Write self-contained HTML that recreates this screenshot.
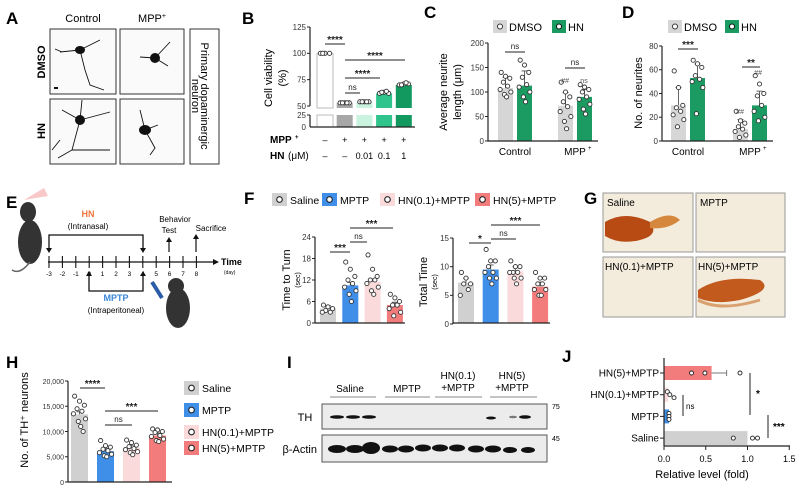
<!DOCTYPE html>
<html><head><meta charset="utf-8"><style>
html,body{margin:0;padding:0;background:#fff;}
svg{display:block;font-family:"Liberation Sans",Arial,sans-serif;}
</style></head><body>
<svg id="fig" width="802" height="491" viewBox="0 0 802 491" xmlns="http://www.w3.org/2000/svg">
<g font-weight="bold" font-size="17">
<text x="6" y="24">A</text>
<text x="242" y="24">B</text>
<text x="424" y="18">C</text>
<text x="622" y="18">D</text>
<text x="6" y="208">E</text>
<text x="244" y="204">F</text>
<text x="584" y="204">G</text>
<text x="6" y="368">H</text>
<text x="287" y="368">I</text>
<text x="562" y="362">J</text>
</g>
<!-- Panel A -->
<g>
<text x="83" y="22" font-size="11" text-anchor="middle">Control</text>
<text x="152" y="22" font-size="11" text-anchor="middle">MPP<tspan font-size="7" dy="-4">+</tspan></text>
<text transform="translate(45,62) rotate(-90)" font-size="11" font-weight="bold" text-anchor="middle">DMSO</text>
<text transform="translate(45,131) rotate(-90)" font-size="11" font-weight="bold" text-anchor="middle">HN</text>
<rect x="50" y="29" width="66" height="65" fill="#fafafa" stroke="#333" stroke-width="1"/>
<rect x="120" y="29" width="64" height="65" fill="#fafafa" stroke="#333" stroke-width="1"/>
<rect x="50" y="99" width="66" height="65" fill="#fafafa" stroke="#333" stroke-width="1"/>
<rect x="120" y="99" width="64" height="65" fill="#fafafa" stroke="#333" stroke-width="1"/>
<rect x="190" y="29" width="29" height="135" fill="#fff" stroke="#333" stroke-width="1"/>
<text transform="translate(201,96) rotate(90)" font-size="11" text-anchor="middle">Primary dopaminergic</text>
<text transform="translate(192,96) rotate(90)" font-size="11" text-anchor="middle">neuron</text>
<g stroke="#111" fill="none" stroke-width="0.9">
<path d="M80 50 L60 52 M80 50 L85 70 L90 85 L104 90 M80 50 L100 40 M62 52 L55 49"/>
<path d="M155 58 L140 57 M155 58 L168 66 M155 58 L170 42"/>
<path d="M80 120 L62 110 M80 120 L72 150 L58 158 M80 120 L110 112 M72 150 L110 150 M80 120 L82 100 M60 140 L52 150"/>
<path d="M145 130 L140 110 M145 130 L155 148 L150 155 M145 130 L158 125"/>
</g>
<g fill="#111">
<ellipse cx="80" cy="50" rx="5" ry="4"/><ellipse cx="155" cy="58" rx="5" ry="5"/>
<ellipse cx="80" cy="120" rx="5" ry="5"/><ellipse cx="145" cy="130" rx="6" ry="5"/>
<rect x="54" y="87" width="4" height="2"/>
</g>
</g>
<!-- Panel E -->
<g>
<path d="M24 200 L44 188 L48 196 Z" fill="#f6b0b0" opacity="0.7"/>
<ellipse cx="30" cy="242" rx="12" ry="22" fill="#333"/>
<ellipse cx="28" cy="212" rx="8" ry="10" fill="#333"/>
<path d="M30 262 Q20 275 12 270" stroke="#666" fill="none" stroke-width="1.5"/>
<line x1="48" y1="262" x2="213" y2="262" stroke="#111" stroke-width="1.3"/>
<path d="M213 259 L219 262 L213 265 Z" fill="#111"/>
<text x="221" y="265" font-size="9" font-weight="bold">Time</text>
<text x="224" y="274" font-size="5">(day)</text>
<g id="eticks"></g>
<text x="88" y="217" font-size="9" font-weight="bold" fill="#f0763c" text-anchor="middle">HN</text>
<text x="88" y="229" font-size="8" text-anchor="middle">(Intranasal)</text>
<path d="M49 250 L49 235 L143 235 L143 250" stroke="#111" fill="none" stroke-width="1.3"/>
<path d="M89 274 L89 291 L143 291 L143 274" stroke="#111" fill="none" stroke-width="1.3"/>
<text x="116" y="301" font-size="9" font-weight="bold" fill="#3a86d8" text-anchor="middle">MPTP</text>
<text x="116" y="313" font-size="8" text-anchor="middle">(Intraperitoneal)</text>
<text x="175" y="222" font-size="8" text-anchor="middle">Behavior</text>
<text x="169" y="233" font-size="8" text-anchor="middle">Test</text>
<text x="211" y="231" font-size="8" text-anchor="middle">Sacrifice</text>
<path d="M169 252 L169 240 M196 252 L196 237" stroke="#111" stroke-width="1.2"/>
<path d="M152 282 L162 298" stroke="#2a5ca8" stroke-width="4"/>
<ellipse cx="178" cy="308" rx="12" ry="20" fill="#333"/>
<ellipse cx="176" cy="286" rx="8" ry="8" fill="#333"/>
</g>
<!-- Panel G -->
<g>
<rect x="603" y="193" width="90" height="59" fill="#f3ecdc" stroke="#999"/>
<rect x="696" y="193" width="89" height="59" fill="#f3ecdc" stroke="#999"/>
<rect x="603" y="257" width="90" height="60" fill="#f3ecdc" stroke="#999"/>
<rect x="696" y="257" width="89" height="60" fill="#f3ecdc" stroke="#999"/>
<path d="M605 222 Q625 210 650 222 Q660 235 640 240 Q620 245 605 236 Z" fill="#b84a14"/>
<path d="M650 222 Q670 210 680 220 Q668 230 650 228 Z" fill="#d6873e"/>
<path d="M698 290 Q720 275 760 280 Q775 290 740 300 Q715 305 698 298 Z" fill="#c25a1e"/>
<path d="M698 300 Q720 312 760 300" stroke="#d9a070" fill="none" stroke-width="3"/>
<text x="607" y="206" font-size="10">Saline</text>
<text x="700" y="206" font-size="10">MPTP</text>
<text x="605" y="270" font-size="10">HN(0.1)+MPTP</text>
<text x="698" y="270" font-size="10">HN(5)+MPTP</text>
</g>
<!-- Panel I -->
<g>
<text x="350" y="392" font-size="10" text-anchor="middle">Saline</text>
<text x="407" y="392" font-size="10" text-anchor="middle">MPTP</text>
<text x="458" y="379" font-size="10" text-anchor="middle">HN(0.1)</text>
<text x="458" y="391" font-size="10" text-anchor="middle">+MPTP</text>
<text x="512" y="379" font-size="10" text-anchor="middle">HN(5)</text>
<text x="512" y="391" font-size="10" text-anchor="middle">+MPTP</text>
<path d="M330 397 H376 M385 397 H430 M435 397 H482 M490 397 H537" stroke="#888" stroke-width="1"/>
<rect x="322" y="404" width="225" height="25" fill="#ececec" stroke="#555"/>
<rect x="322" y="435" width="225" height="27" fill="#ececec" stroke="#555"/>
<text x="305" y="421" font-size="11" text-anchor="middle">TH</text>
<text x="317" y="453" font-size="11" text-anchor="end">β-Actin</text>
<text x="552" y="409" font-size="7">75</text>
<text x="552" y="441" font-size="7">45</text>
<g fill="#111">
<ellipse cx="337" cy="417" rx="7" ry="1.8"/><ellipse cx="353" cy="417" rx="7" ry="1.8"/><ellipse cx="369" cy="417" rx="7" ry="1.8"/>
<ellipse cx="491" cy="418" rx="5" ry="1.5"/><ellipse cx="513" cy="417" rx="4" ry="1.2" fill="#777"/><ellipse cx="525" cy="417" rx="6" ry="1.8"/>
</g>
<g fill="#111">
<ellipse cx="337" cy="449" rx="9" ry="4"/><ellipse cx="355" cy="449" rx="9" ry="4"/><ellipse cx="371" cy="448" rx="9" ry="6"/>
<ellipse cx="390" cy="449" rx="8" ry="3.5"/><ellipse cx="406" cy="449" rx="8" ry="3.5"/><ellipse cx="423" cy="448" rx="8" ry="3.5"/>
<ellipse cx="440" cy="448" rx="8" ry="3.5"/><ellipse cx="457" cy="448" rx="8" ry="3.5"/><ellipse cx="476" cy="449" rx="8" ry="3.5"/>
<ellipse cx="493" cy="449" rx="8" ry="3.5"/><ellipse cx="510" cy="450" rx="7" ry="3"/><ellipse cx="528" cy="450" rx="7" ry="3"/>
</g>
</g>
<g id="charts"></g>
</svg>
<script>
// ---- data ----
const bCats = ["ctrl","mpp","hn0.01","hn0.1","hn1"];
const bVals = [100, 53, 54, 62, 70];
const bPts = [[100,100,100,100],[53,53,53,53,53],[54,54,54,54,54],[62,63,62,63,64],[70,71,71,70,72]];
const bTicks = [50, 75, 100, 125];
const cDmso = [108, 72];
const cHn = [113, 90];
const cDmsoErr = [22, 27];
const cHnErr = [30, 15];
const cDmsoPts = [[140,132,128,120,112,105,100,95,90],[120,100,90,80,70,60,50,40,25]];
const cHnPts = [[165,155,140,130,115,110,100,90,80],[115,110,105,100,90,85,75,65,55]];
const cTicks = [0, 50, 100, 150, 200];
const dDmso = [30, 10];
const dHn = [53, 30];
const dDmsoErr = [15, 8];
const dHnErr = [12, 12];
const dDmsoPts = [[59,45,30,28,25,22,18,12],[25,17,15,12,10,8,5,3]];
const dHnPts = [[68,65,62,55,52,50,45,23],[55,48,40,38,30,25,20,17]];
const dTicks = [0, 20, 40, 60, 80];
const groupNames = ["Control", "MPP"];
const fTurn = [4, 10.5, 11.5, 5];
const fTurnPts = [[5,4.5,4,3.5,3,3],[17,15,13,12,11,10,9,8,6],[19,15,13,12,12,11,10,9,8],[8,7,6,5,5,4,3,2]];
const fTurnTicks = [0, 6, 12, 18, 24];
const fTotal = [7.2, 9.5, 9.2, 6.5];
const fTotalPts = [[9,8,7,7,6,5],[13,11,11,10,9,9,8,8,7],[11,10,10,9,9,9,8,8,7],[9,8,8,7,7,6,6,5,5]];
const fTotalTicks = [0, 5, 10, 15];
const hVals = [13400, 6100, 6800, 9200];
const hPts = [[17000,16000,15200,14500,14000,13500,12500,12000,11000,10000],[8200,7200,6900,6500,6200,5800,5500,5200,5000],[8300,7800,7300,7000,6600,6400,6000,5800,5400],[10500,10300,10000,9800,9200,9000,8500,8200,8000]];
const hTicks = [0, 5000, 10000, 15000, 20000];
const hTickLabels = ["0", "5,000", "10,000", "15,000", "20,000"];
const grpCats = ["Saline", "MPTP", "HN(0.1)+MPTP", "HN(5)+MPTP"];
const grpColors = ["#d0d0d0", "#3f8ee8", "#fadada", "#f27b7b"];
const jCats = ["HN(5)+MPTP", "HN(0.1)+MPTP", "MPTP", "Saline"];
const jVals = [0.57, 0.05, 0.06, 1.0];
const jErr = [0.18, 0, 0, 0];
const jPts = [[0.33,0.49,0.91],[0.04,0.07,0.12],[0.06,0.06,0.06],[0.83,1.06,1.12]];
const jTicks = [0, 0.5, 1.0, 1.5];
const jTickLabels = ["0.0", "0.5", "1.0", "1.5"];

const NS = 'http://www.w3.org/2000/svg';
const root = document.getElementById('charts');
function mk(tag, attrs, name, parent) {
  const e = document.createElementNS(NS, tag);
  for (const k in attrs) e.setAttribute(k, attrs[k]);
  
  
  (parent || root).appendChild(e);
  return e;
}
function txt(x, y, s, size, anchor, name, extra) {
  const e = mk('text', Object.assign({x: x, y: y, 'font-size': size, 'text-anchor': anchor || 'middle'}, extra || {}), name);
  e.textContent = s;
  return e;
}
const JIT = [-4, 0, 4, -2, 2, -5, 5, -1, 1, 3];
function pts(cx, vals, yOf, w, name) {
  vals.forEach((v, j) => {
    mk('circle', {cx: cx + JIT[j % 10] * w / 14, cy: yOf(v), r: 2.1, fill: '#fff', stroke: '#333', 'stroke-width': 0.9}, name);
  });
}
function yAxis(x, yOf, ticks, labels, size, name) {
  mk('line', {x1: x, x2: x, y1: yOf(ticks[0]), y2: yOf(ticks[ticks.length - 1]), stroke: '#222', 'stroke-width': 1.2}, name + '-line');
  ticks.forEach((t, i) => {
    mk('line', {x1: x - 3, x2: x, y1: yOf(t), y2: yOf(t), stroke: '#222', 'stroke-width': 1}, name + '-tick');
    txt(x - 4, yOf(t) + 2.8, labels ? labels[i] : String(t), size, 'end', name + '-label', {fill: '#333'});
  });
}
function errBar(cx, y1, y2, name) {
  mk('line', {x1: cx, x2: cx, y1: y1, y2: y2, stroke: '#555', 'stroke-width': 0.9}, name);
  mk('line', {x1: cx - 3, x2: cx + 3, y1: y2, y2: y2, stroke: '#555', 'stroke-width': 0.9}, name + '-cap');
}
function sig(x1, x2, y, label, name) {
  mk('line', {x1: x1, x2: x2, y1: y, y2: y, stroke: '#222', 'stroke-width': 1}, name + '-line');
  txt((x1 + x2) / 2, label === 'ns' ? y - 3 : y - 1, label, label === 'ns' ? 8 : 10, 'middle', name + '-label', {fill: '#222', 'font-weight': label === 'ns' ? 'normal' : 'bold'});
}
function vtitle(x, y, s, size, name) {
  txt(0, 0, s, size, 'middle', name, {transform: 'translate(' + x + ',' + y + ') rotate(-90)'});
}

// ---- Panel B ----
const yB = v => v >= 50 ? 106 - (v - 50) * (79 / 75) : 127 - v * (12 / 25);
const bColors = ["#ffffff", "#a7a7a7", "#c9f2df", "#2fc48c", "#12995f"];
bVals.forEach((v, i) => {
  const x = 317 + i * 19.7, w = 16;
  mk('rect', {x: x, y: yB(v), width: w, height: 108 - yB(v), fill: bColors[i], stroke: i === 0 ? '#bbb' : 'none'}, 'bar-b-' + bCats[i]);
  mk('rect', {x: x, y: 115, width: w, height: 12, fill: bColors[i], stroke: i === 0 ? '#bbb' : 'none'}, 'bar-b-low-' + bCats[i]);
  pts(x + w / 2, bPts[i], yB, w, 'point-b');
});
yAxis(310, yB, bTicks, null, 8, 'b-axis-top');
mk('line', {x1: 310, x2: 310, y1: 115, y2: 127, stroke: '#222', 'stroke-width': 1.2}, 'b-axis-low');
mk('line', {x1: 307, x2: 310, y1: 115, y2: 115, stroke: '#222'}, 'b-tick-25');
txt(306, 117.8, '25', 8, 'end', 'b-label-25', {fill: '#333'});
txt(306, 129.8, '0', 8, 'end', 'b-label-0', {fill: '#333'});
mk('line', {x1: 310, x2: 415, y1: 127, y2: 127, stroke: '#222', 'stroke-width': 1.2}, 'b-x-axis');
vtitle(272, 78, 'Cell viability', 11, 'b-y-title');
vtitle(286, 78, '(%)', 11, 'b-y-title-2');
txt(270, 143, 'MPP', 10, 'start', 'b-mpp-row', {'font-weight': 'bold'});
txt(295, 139, '+', 6, 'start', 'b-mpp-sup', {'font-weight': 'bold'});
txt(270, 159, 'HN', 10, 'start', 'b-hn-row', {'font-weight': 'bold'});
txt(288, 159, '(μM)', 10, 'start', 'b-hn-unit');
const bMpp = ['–', '+', '+', '+', '+'], bHn = ['–', '–', '0.01', '0.1', '1'];
bCats.forEach((c, i) => {
  const cx = 325 + i * 19.7;
  txt(cx, 143, bMpp[i], 9, 'middle', 'b-mpp-sign');
  txt(cx, 159, bHn[i], 9, 'middle', 'b-hn-value');
});
sig(325, 345, 44, '****', 'b-sig1');
sig(345, 405, 60, '****', 'b-sig2');
sig(345, 380, 78, '****', 'b-sig3');
sig(345, 360, 93, 'ns', 'b-sig4');

// ---- Panel C / D grouped ----
function grouped(ax, yOf, ticks, dm, hn, dmE, hnE, dmP, hnP, base, gx, name) {
  dm.forEach((v, g) => {
    const x1 = gx[g], x2 = gx[g] + 19, w = 15;
    mk('rect', {x: x1, y: yOf(v), width: w, height: base - yOf(v), fill: '#d6d6d6'}, name + '-bar-dmso-' + groupNames[g]);
    mk('rect', {x: x2, y: yOf(hn[g]), width: w, height: base - yOf(hn[g]), fill: '#1b9a62'}, name + '-bar-hn-' + groupNames[g]);
    errBar(x1 + w / 2, yOf(v), yOf(v + dmE[g]), name + '-err');
    errBar(x2 + w / 2, yOf(hn[g]), yOf(hn[g] + hnE[g]), name + '-err');
    pts(x1 + w / 2, dmP[g], yOf, w, name + '-point-dmso');
    pts(x2 + w / 2, hnP[g], yOf, w, name + '-point-hn');
  });
  yAxis(ax, yOf, ticks, null, 8, name + '-axis');
  mk('line', {x1: ax, x2: gx[1] + 40, y1: base, y2: base, stroke: '#222', 'stroke-width': 1.2}, name + '-x-axis');
  txt(gx[0] + 17, base + 14, 'Control', 10, 'middle', name + '-x-control');
  txt(gx[1] + 17, base + 14, 'MPP', 10, 'middle', name + '-x-mpp');
  txt(gx[1] + 30, base + 9, '+', 6, 'start', name + '-x-mpp-sup');
}
const yC = v => 141 - v * (98 / 200);
grouped(488, yC, cTicks, cDmso, cHn, cDmsoErr, cHnErr, cDmsoPts, cHnPts, 141, [498, 558], 'c');
vtitle(447, 92, 'Average neurite', 11, 'c-y-title');
vtitle(461, 92, 'length (μm)', 11, 'c-y-title-2');
sig(505, 525, 52, 'ns', 'c-sig1');
sig(565, 585, 68, 'ns', 'c-sig2');
txt(565, 83, '##', 7, 'middle', 'c-hash', {'font-style': 'italic', fill: '#555'});
txt(584, 83, 'ns', 7, 'middle', 'c-ns', {fill: '#555'});
const yD = v => 141 - v * (95 / 80);
grouped(662, yD, dTicks, dDmso, dHn, dDmsoErr, dHnErr, dDmsoPts, dHnPts, 141, [671, 733], 'd');
vtitle(642, 93, 'No. of neurites', 11, 'd-y-title');
sig(678, 698, 49, '***', 'd-sig1');
sig(742, 760, 67, '**', 'd-sig2');
txt(740, 114, '##', 7, 'middle', 'd-hash1', {'font-style': 'italic', fill: '#555'});
txt(758, 75, '##', 7, 'middle', 'd-hash2', {'font-style': 'italic', fill: '#555'});
// legends C, D
[[493, 'c'], [668, 'd']].forEach(([lx, n]) => {
  mk('rect', {x: lx, y: 20, width: 14, height: 13, fill: '#d6d6d6'}, n + '-legend-dmso-swatch');
  mk('circle', {cx: lx + 7, cy: 26.5, r: 2.5, fill: '#fff', stroke: '#333'}, n + '-legend-dmso-dot');
  txt(lx + 16, 31, 'DMSO', 11, 'start', n + '-legend-dmso');
  const hx = lx + (n === 'c' ? 59 : 57);
  mk('rect', {x: hx, y: 20, width: 14, height: 13, fill: '#1b9a62'}, n + '-legend-hn-swatch');
  mk('circle', {cx: hx + 7, cy: 26.5, r: 2.5, fill: '#fff', stroke: '#111'}, n + '-legend-hn-dot');
  txt(hx + 16, 31, 'HN', 11, 'start', n + '-legend-hn');
});

// ---- Panel E ticks ----
const eTicks = [-3,-2,-1,0,1,2,3,4,5,6,7,8];
eTicks.forEach((d, i) => {
  const x = 49 + i * 13.4;
  mk('line', {x1: x, x2: x, y1: 256, y2: 268, stroke: '#111', 'stroke-width': 1.1}, 'e-day-tick');
  txt(x, 276, String(d), 6.5, 'middle', 'e-day-label');
});
mk('path', {d: 'M46 248 L49 253 L52 248 Z M140 248 L143 253 L146 248 Z', fill: '#111'}, 'hn-arrowheads');
mk('path', {d: 'M86 276 L89 271 L92 276 Z M140 276 L143 271 L146 276 Z M166 242 L169 237 L172 242 Z M193 239 L196 234 L199 239 Z', fill: '#111'}, 'mptp-arrowheads');

// ---- Panel F ----
grpCats.forEach((c, i) => {
  const lx = [272, 322, 380, 475][i];
  mk('rect', {x: lx, y: 193, width: 15, height: 13, fill: grpColors[i]}, 'f-legend-swatch-' + i);
  mk('circle', {cx: lx + 7.5, cy: 199.5, r: 2.8, fill: '#fff', stroke: '#222', 'stroke-width': 1.1}, 'f-legend-dot');
  txt(lx + 18, 204, c, 10.5, 'start', 'f-legend-' + i);
});
function fChart(ax, yOf, ticks, vals, pv, x0, step, name) {
  vals.forEach((v, i) => {
    const x = x0 + i * step, w = 16;
    mk('rect', {x: x, y: yOf(v), width: w, height: 323 - yOf(v), fill: grpColors[i]}, name + '-bar-' + i);
    errBar(x + w / 2, yOf(v), yOf(v + 0.8), name + '-err');
    pts(x + w / 2, pv[i], yOf, w, name + '-point');
  });
  yAxis(ax, yOf, ticks, null, 8, name + '-axis');
  mk('line', {x1: ax, x2: x0 + 3 * step + 18, y1: 323, y2: 323, stroke: '#222', 'stroke-width': 1.2}, name + '-x-axis');
}
const yF1 = v => 323 - v * (86 / 24);
fChart(315, yF1, fTurnTicks, fTurn, fTurnPts, 320, 22.3, 'f-turn');
vtitle(290, 280, 'Time to Turn', 11, 'f-turn-title');
vtitle(300, 280, '(sec)', 7, 'f-turn-unit');
sig(330, 350, 252, '***', 'f-sig1');
sig(350, 367, 242, 'ns', 'f-sig2');
sig(350, 393, 228, '***', 'f-sig3');
const yF2 = v => 324 - v * (86 / 15);
fChart(453, yF2, fTotalTicks, fTotal, fTotalPts, 458, 24.7, 'f-total');
vtitle(427, 282, 'Total Time', 11, 'f-total-title');
vtitle(437, 282, '(sec)', 7, 'f-total-unit');
sig(469, 491, 243, '*', 'f-sig4');
sig(491, 516, 239, 'ns', 'f-sig5');
sig(491, 540, 225, '***', 'f-sig6');

// ---- Panel H ----
const yH = v => 482 - v * (101 / 20000);
hVals.forEach((v, i) => {
  const x = 71 + i * 26, w = 17;
  mk('rect', {x: x, y: yH(v), width: w, height: 482 - yH(v), fill: grpColors[i]}, 'h-bar-' + i);
  errBar(x + w / 2, yH(v), yH(v + 500), 'h-err');
  pts(x + w / 2, hPts[i], yH, w, 'h-point');
});
yAxis(68, yH, hTicks, hTickLabels, 7, 'h-axis');
mk('line', {x1: 68, x2: 172, y1: 482, y2: 482, stroke: '#222', 'stroke-width': 1.2}, 'h-x-axis');
vtitle(28, 420, 'No. of TH⁺ neurons', 11, 'h-y-title');
sig(80, 105, 388, '****', 'h-sig1');
sig(105, 158, 411, '***', 'h-sig2');
sig(105, 132, 425, 'ns', 'h-sig3');
grpCats.forEach((c, i) => {
  const ly = [388, 410, 432, 448][i];
  mk('rect', {x: 184, y: ly - 7, width: 15, height: 14, fill: grpColors[i]}, 'h-legend-swatch-' + i);
  mk('circle', {cx: 191.5, cy: ly, r: 2.8, fill: '#fff', stroke: '#222', 'stroke-width': 1.1}, 'h-legend-dot');
  txt(202, ly + 4, c, 10.5, 'start', 'h-legend-' + i);
});

// ---- Panel J ----
const xJ = v => 664 + v * 83.5;
const jColors = ["#f27b7b", "#fadada", "#3f8ee8", "#d0d0d0"];
jCats.forEach((c, i) => {
  const cy = 373 + i * 21.7;
  mk('rect', {x: 664, y: cy - 7, width: xJ(jVals[i]) - 664, height: 14, fill: jColors[i]}, 'j-bar-' + i);
  if (jErr[i] > 0) {
    mk('line', {x1: xJ(jVals[i]), x2: xJ(jVals[i] + jErr[i]), y1: cy, y2: cy, stroke: '#777'}, 'j-err');
    mk('line', {x1: xJ(jVals[i] + jErr[i]), x2: xJ(jVals[i] + jErr[i]), y1: cy - 3, y2: cy + 3, stroke: '#777'}, 'j-err-cap');
  }
  jPts[i].forEach((p, j) => {
    mk('circle', {cx: xJ(p), cy: cy + (i === 1 || i === 2 ? (j - 1) * 3 : 0), r: 2, fill: '#fff', stroke: '#222', 'stroke-width': 0.9}, 'j-point');
  });
  mk('line', {x1: 660, x2: 664, y1: cy, y2: cy, stroke: '#222'}, 'j-y-tick');
  txt(659, cy + 3.5, c, 10, 'end', 'j-y-label');
});
mk('line', {x1: 664, x2: 664, y1: 358, y2: 446, stroke: '#222', 'stroke-width': 1.2}, 'j-y-axis');
mk('line', {x1: 664, x2: 790, y1: 446, y2: 446, stroke: '#222', 'stroke-width': 1.2}, 'j-x-axis');
jTicks.forEach((t, i) => {
  mk('line', {x1: xJ(t), x2: xJ(t), y1: 446, y2: 450, stroke: '#222'}, 'j-x-tick');
  txt(xJ(t), 462, jTickLabels[i], 9, 'middle', 'j-x-label');
});
txt(702, 478, 'Relative level (fold)', 11, 'middle', 'j-x-title');
mk('line', {x1: 683, x2: 683, y1: 395, y2: 416, stroke: '#222'}, 'j-sig-ns-line');
txt(686, 409, 'ns', 8, 'start', 'j-sig-ns');
mk('line', {x1: 750, x2: 750, y1: 373, y2: 415, stroke: '#222'}, 'j-sig-1-line');
txt(756, 397, '*', 10, 'start', 'j-sig-1', {'font-weight': 'bold'});
mk('line', {x1: 768, x2: 768, y1: 415, y2: 438, stroke: '#222'}, 'j-sig-2-line');
txt(773, 430, '***', 10, 'start', 'j-sig-2', {'font-weight': 'bold'});
</script>
</body></html>
